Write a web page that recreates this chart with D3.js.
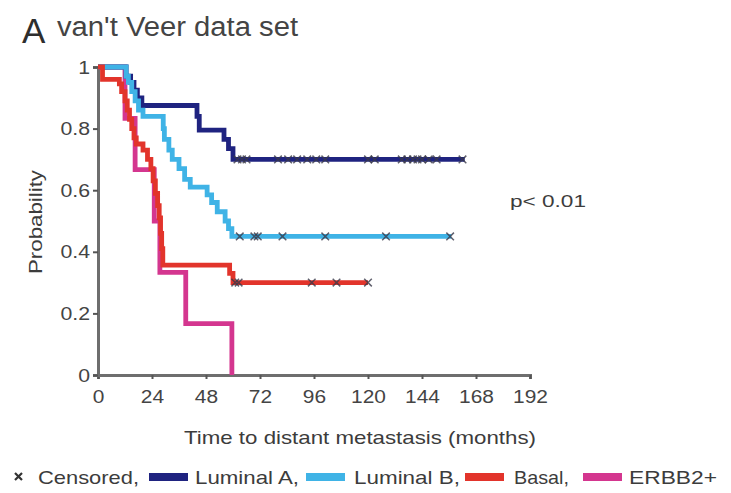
<!DOCTYPE html>
<html><head><meta charset="utf-8">
<script src="https://cdn.jsdelivr.net/npm/d3@7"></script>
<style>body{margin:0;background:#fff}text{font-family:"Liberation Sans",Arial,sans-serif;fill:#3c3c3c}</style>
</head><body><svg id="c" width="731" height="493"></svg>
<script>
const xTicks = [0, 24, 48, 72, 96, 120, 144, 168, 192];
const yTicks = [0, 0.2, 0.4, 0.6, 0.8, 1];
const yTickLabels = ["0", "0.2", "0.4", "0.6", "0.8", "1"];

const lumATimes = [0, 12.5, 14.5, 16, 17.5, 19.5, 44, 45, 56, 58, 60, 163];
const lumASurv  = [1, 0.97, 0.95, 0.925, 0.9, 0.875, 0.84, 0.795, 0.765, 0.735, 0.70, 0.70];
const lumACens  = [62, 64, 66, 80, 84.5, 88.5, 93, 97, 101, 120, 123, 135, 137.5, 140, 142, 144, 147, 150.5, 162];

const lumBTimes = [0, 12.5, 13.5, 15, 16.5, 18, 20, 29, 29.5, 31.5, 33, 36, 38.5, 41, 48.5, 50.5, 53, 56.5, 58, 59.5, 157];
const lumBSurv  = [1, 0.97, 0.95, 0.92, 0.89, 0.86, 0.84, 0.80, 0.765, 0.73, 0.70, 0.67, 0.635, 0.61, 0.585, 0.56, 0.53, 0.50, 0.475, 0.45, 0.45];
const lumBCens  = [63, 69.5, 71, 82, 101, 128, 156.5];

const basalTimes = [0, 2, 9.5, 10.5, 12, 13, 14, 15, 16, 17, 20, 22, 23.5, 24.5, 25.5, 26.5, 27.2, 27.8, 28.3, 28.8, 58.5, 60, 120];
const basalSurv  = [1, 0.96, 0.945, 0.92, 0.89, 0.86, 0.83, 0.80, 0.77, 0.75, 0.73, 0.70, 0.67, 0.63, 0.59, 0.55, 0.51, 0.46, 0.41, 0.357, 0.33, 0.30, 0.30];
const basalCens  = [61, 62.5, 95, 106, 120];

const erbbTimes = [0, 12, 16.5, 25, 27.5, 39, 59.5];
const erbbSurv  = [1, 0.833, 0.667, 0.5, 0.333, 0.167, 0];

const seriesNames = ["Luminal A", "Luminal B", "Basal", "ERBB2+"];
const seriesColors = ["#1f2380", "#3fb3e6", "#e2342b", "#d4368f"];

const svg = d3.select("#c");
const x = d3.scaleLinear().domain([0, 192]).range([98, 530]);
const y = d3.scaleLinear().domain([0, 1]).range([375, 67]);

// title
svg.append("text").attr("x", 22).attr("y", 43).style("font-size", "35px").style("fill", "#2e2e2e").text("A");
svg.append("text").attr("x", 57).attr("y", 36).style("font-size", "27px").style("fill", "#444")
  .attr("textLength", 241).attr("lengthAdjust", "spacingAndGlyphs").text("van't Veer data set");

// axes
const xAxis = svg.append("g").attr("transform", `translate(0,${y(0)})`)
  .call(d3.axisBottom(x).tickValues(xTicks).tickSize(4).tickPadding(11).tickFormat(d3.format("d")));
const yAxis = svg.append("g").attr("transform", `translate(${x(0)},0)`)
  .call(d3.axisLeft(y).tickValues(yTicks).tickSize(5).tickPadding(3).tickFormat((d, i) => yTickLabels[i]));
[xAxis, yAxis].forEach(g => {
  g.select(".domain").attr("stroke", "#6e6e6e").attr("stroke-width", 3);
  g.selectAll(".tick line").attr("stroke", "#555").attr("stroke-width", 2);
  g.selectAll(".tick text").style("font-size", "19px").style("fill", "#444").attr("font-family", null);
});
xAxis.selectAll(".tick text").attr("transform", "scale(1.1,1)");
yAxis.selectAll(".tick text").each(function() {
  const t = d3.select(this);
  t.attr("transform", `translate(${t.attr("x")},0) scale(1.12,1)`).attr("x", 0);
});

svg.append("text").attr("transform", "translate(42,222) rotate(-90)").attr("text-anchor", "middle")
  .style("font-size", "19px").attr("textLength", 104).attr("lengthAdjust", "spacingAndGlyphs").text("Probability");
svg.append("text").attr("x", 360).attr("y", 444).attr("text-anchor", "middle")
  .style("font-size", "19px").attr("textLength", 352).attr("lengthAdjust", "spacingAndGlyphs").text("Time to distant metastasis (months)");
svg.append("text").attr("x", 510).attr("y", 207)
  .style("font-size", "17px").attr("textLength", 76).attr("lengthAdjust", "spacingAndGlyphs").text("p< 0.01");

// curves (drawing order: ERBB2+, Luminal A, Luminal B, Basal)
const line = d3.line().x(d => x(d[0])).y(d => y(d[1])).curve(d3.curveStepAfter);
const curves = [
  {t: erbbTimes, s: erbbSurv, c: [], col: seriesColors[3]},
  {t: lumATimes, s: lumASurv, c: lumACens, col: seriesColors[0]},
  {t: lumBTimes, s: lumBSurv, c: lumBCens, col: seriesColors[1]},
  {t: basalTimes, s: basalSurv, c: basalCens, col: seriesColors[2]}
];
function survAt(cv, m) {
  let v = cv.s[0];
  for (let i = 0; i < cv.t.length; i++) if (cv.t[i] <= m) v = cv.s[i];
  return v;
}
curves.forEach(cv => {
  const pts = cv.t.map((t, i) => [t, cv.s[i]]);
  svg.append("path").attr("d", line(pts)).attr("fill", "none").attr("stroke", cv.col)
    .attr("stroke-width", 4.8).attr("stroke-linejoin", "miter");
});
curves.forEach(cv => {
  cv.c.forEach(m => {
    const cx = x(m), cy = y(survAt(cv, m)), r = 3.8;
    svg.append("path").attr("d", `M${cx - r},${cy - r}L${cx + r},${cy + r}M${cx - r},${cy + r}L${cx + r},${cy - r}`)
      .attr("stroke", "#3a3a4a").attr("stroke-width", 1.5).attr("fill", "none").attr("opacity", 0.8);
  });
});

// legend
const ly = 477;
svg.append("path").attr("d", `M15,${ly - 4}L22,${ly + 3}M15,${ly + 3}L22,${ly - 4}`).attr("stroke", "#333").attr("stroke-width", 2.2);
svg.append("text").attr("x", 38).attr("y", ly + 7).style("font-size", "19px").attr("textLength", 101).attr("lengthAdjust", "spacingAndGlyphs").text("Censored,");
const legItems = [
  {sx: 149, tx: 195, tl: 104, label: seriesNames[0] + ","},
  {sx: 306, tx: 354, tl: 106, label: seriesNames[1] + ","},
  {sx: 465, tx: 514, tl: 55, label: seriesNames[2] + ","},
  {sx: 583, tx: 629, tl: 88, label: seriesNames[3]}
];
legItems.forEach((it, i) => {
  svg.append("rect").attr("x", it.sx).attr("y", ly - 4).attr("width", 39).attr("height", 8).attr("fill", seriesColors[i]);
  svg.append("text").attr("x", it.tx).attr("y", ly + 7).style("font-size", "19px")
    .attr("textLength", it.tl).attr("lengthAdjust", "spacingAndGlyphs").text(it.label);
});
</script></body></html>
